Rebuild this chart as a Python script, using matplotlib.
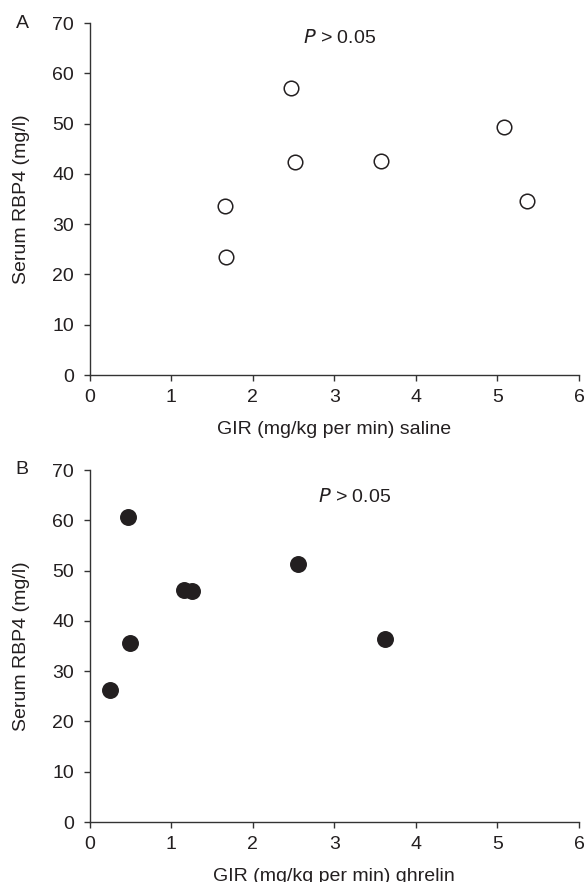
import matplotlib
matplotlib.use("Agg")
import matplotlib.pyplot as plt

plt.rcParams['font.family'] = ['Liberation Sans', 'DejaVu Sans']

# Panel A: saline
gir_saline = [1.665, 1.674, 2.472, 2.518, 3.569, 5.078, 5.358]
rbp4_saline = [33.7, 23.4, 57.0, 42.4, 42.6, 49.3, 34.7]
# Panel B: ghrelin
gir_ghrelin = [0.472, 0.50, 0.257, 1.161, 1.261, 2.55, 3.62]
rbp4_ghrelin = [60.6, 35.7, 26.3, 46.1, 45.9, 51.4, 36.4]

xticks = [0, 1, 2, 3, 4, 5, 6]
yticks = [0, 10, 20, 30, 40, 50, 60, 70]
xlabels = ["GIR (mg/kg per min) saline", "GIR (mg/kg per min) ghrelin"]
ylabel = "Serum RBP4 (mg/l)"
panel_labels = ["A", "B"]

fig = plt.figure(figsize=(5.87, 8.82), dpi=100)
axA = fig.add_axes([0.1525, 0.5748, 0.834, 0.399])
axB = fig.add_axes([0.1525, 0.068, 0.834, 0.399])

col = '#231f20'
fs = 14

def style(ax, xlabel):
    ax.set_xlim(0, 6)
    ax.set_ylim(0, 70)
    ax.set_xticks(xticks)
    ax.set_yticks(yticks)
    for s in ['top', 'right']:
        ax.spines[s].set_visible(False)
    for s in ['left', 'bottom']:
        ax.spines[s].set_color('#333333')
        ax.spines[s].set_linewidth(1.0)
    ax.tick_params(direction='out', length=4, width=1.0, colors='#333333',
                   labelsize=fs, labelcolor=col)
    ax.tick_params(axis='x', pad=6)
    ax.tick_params(axis='y', pad=7)
    ax.set_xlabel(xlabel, fontsize=fs, color=col, labelpad=11)
    ax.set_ylabel(ylabel, fontsize=fs, color=col, labelpad=16)

axA.scatter(gir_saline, rbp4_saline, s=110, facecolor='white', edgecolor=col,
            linewidth=1.1, zorder=3, clip_on=False)
axB.scatter(gir_ghrelin, rbp4_ghrelin, s=125, facecolor=col, edgecolor=col,
            linewidth=1.0, zorder=3, clip_on=False)

style(axA, xlabels[0])
style(axB, xlabels[1])

axA.text(2.62, 67, r"$\it{P}$ > 0.05", fontsize=fs, color=col, va='center', ha='left')
axB.text(2.80, 64.6, r"$\it{P}$ > 0.05", fontsize=fs, color=col, va='center', ha='left')

fig.text(22 / 587, 1 - 23 / 882, panel_labels[0], fontsize=fs, color=col, va='center', ha='center')
fig.text(22 / 587, 1 - 469 / 882, panel_labels[1], fontsize=fs, color=col, va='center', ha='center')

fig.savefig("out.png", dpi=100)
